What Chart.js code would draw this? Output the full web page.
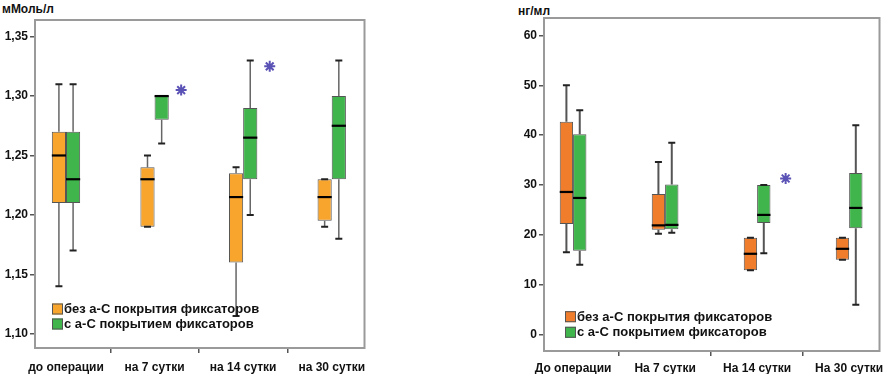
<!DOCTYPE html>
<html>
<head>
<meta charset="utf-8">
<script src="https://cdn.jsdelivr.net/npm/chart.js@4.4.1/dist/chart.umd.min.js"></script>
<style>
  body { margin: 0; background: #fff; width: 887px; height: 374px; overflow: hidden; position: relative; font-family: 'Liberation Sans', Arial, sans-serif; }
  .panel { position: absolute; top: 0; }
  .unit { position: absolute; font: bold 12px 'Liberation Sans', Arial, sans-serif; color: #111; }
</style>
</head>
<body>
<div class="unit" style="left:2px; top:2px;">мМоль/л</div>
<div class="unit" style="left:518px; top:4px;">нг/мл</div>
<canvas id="leftChart" class="panel" style="left:0px;" width="372" height="374"></canvas>
<canvas id="rightChart" class="panel" style="left:500px;" width="387" height="374"></canvas>
<script>
// categories
const categoriesLeft = ['до операции', 'на 7 сутки', 'на 14 сутки', 'на 30 сутки'];
const categoriesRight = ['До операции', 'На 7 сутки', 'На 14 сутки', 'На 30 сутки'];
const seriesNames = ['без а-С покрытия фиксаторов', 'с а-С покрытием фиксаторов'];

// left panel, mmol/l : without coating
const leftWithoutMin = [1.14, 1.19, 1.115, 1.19];
const leftWithoutQ1 = [1.21, 1.19, 1.16, 1.195];
const leftWithoutMed = [1.25, 1.23, 1.215, 1.215];
const leftWithoutQ3 = [1.27, 1.24, 1.235, 1.23];
const leftWithoutMax = [1.31, 1.25, 1.24, 1.23];
// left panel : with coating
const leftWithMin = [1.17, 1.26, 1.20, 1.18];
const leftWithQ1 = [1.21, 1.28, 1.23, 1.23];
const leftWithMed = [1.23, 1.30, 1.265, 1.275];
const leftWithQ3 = [1.27, 1.30, 1.29, 1.30];
const leftWithMax = [1.31, 1.30, 1.33, 1.33];
const leftStarCats = [1, 2];
const leftStarValues = [1.305, 1.325];
const leftTicks = [1.10, 1.15, 1.20, 1.25, 1.30, 1.35];

// right panel, ng/ml : without coating
const rightWithoutMin = [16.5, 20.2, 12.9, 15];
const rightWithoutQ1 = [22.2, 21.0, 12.9, 15];
const rightWithoutMed = [28.6, 21.9, 16.2, 17.2];
const rightWithoutQ3 = [42.7, 28.2, 19.4, 19.4];
const rightWithoutMax = [50, 34.6, 19.4, 19.4];
// right panel : with coating
const rightWithMin = [14, 20.4, 16.3, 6];
const rightWithQ1 = [16.8, 21.1, 22.4, 21.3];
const rightWithMed = [27.4, 22, 24, 25.4];
const rightWithQ3 = [40.2, 30.1, 30, 32.4];
const rightWithMax = [45, 38.5, 30, 42];
const rightStarCats = [2];
const rightStarValues = [31.3];
const rightTicks = [0, 10, 20, 30, 40, 50, 60];

const FONT = "'Liberation Sans', Arial, sans-serif";

// whiskers, caps, medians, frame and legend
const boxPlugin = {
    id: 'boxExtras',
    beforeDatasetsDraw(chart, args, opts) {
        const a = chart.chartArea;
        const ctx = chart.ctx;
        ctx.save();
        ctx.strokeStyle = '#9a9a9a';
        ctx.lineWidth = 2;
        ctx.strokeRect(a.left, a.top, a.right - a.left, a.bottom - a.top);
        ctx.restore();
    },
    afterDatasetsDraw(chart, args, opts) {
        const ctx = chart.ctx;
        const y = chart.scales.y;
        chart.data.datasets.forEach((ds, di) => {
            if (!ds.whisker) return;
            const meta = chart.getDatasetMeta(di);
            meta.data.forEach((el, i) => {
                const x = el.x;
                const w = el.width;
                const q1 = y.getPixelForValue(ds.data[i].y[0]);
                const q3 = y.getPixelForValue(ds.data[i].y[1]);
                const lo = y.getPixelForValue(ds.whisker.min[i]);
                const hi = y.getPixelForValue(ds.whisker.max[i]);
                const md = y.getPixelForValue(ds.whisker.med[i]);
                ctx.save();
                ctx.strokeStyle = opts.whiskerColor;
                ctx.lineWidth = opts.whiskerWidth;
                ctx.beginPath();
                ctx.moveTo(x, q3); ctx.lineTo(x, hi);
                ctx.moveTo(x, q1); ctx.lineTo(x, lo);
                ctx.stroke();
                ctx.strokeStyle = '#222';
                ctx.lineWidth = 2;
                ctx.beginPath();
                ctx.moveTo(x - 3.5, hi); ctx.lineTo(x + 3.5, hi);
                ctx.moveTo(x - 3.5, lo); ctx.lineTo(x + 3.5, lo);
                ctx.stroke();
                ctx.strokeStyle = '#000';
                ctx.lineWidth = 2.2;
                ctx.beginPath();
                ctx.moveTo(x - w / 2, md); ctx.lineTo(x + w / 2, md);
                ctx.stroke();
                ctx.restore();
            });
        });
    },
    afterDraw(chart, args, opts) {
        const ctx = chart.ctx;
        ctx.save();
        ctx.font = 'bold 13px ' + FONT;
        ctx.textBaseline = 'middle';
        chart.data.datasets.filter(ds => ds.whisker).forEach((ds, k) => {
            const cy = opts.legendY + k * opts.legendStep;
            ctx.fillStyle = ds.backgroundColor;
            ctx.fillRect(opts.legendX, cy - 5.5, 11, 11);
            ctx.strokeStyle = '#555';
            ctx.lineWidth = 1;
            ctx.strokeRect(opts.legendX + 0.5, cy - 5, 10, 10);
            ctx.fillStyle = '#111';
            ctx.fillText(ds.label, opts.legendX + 12, cy + 0.5);
        });
        ctx.restore();
    }
};

function buildChart(id, cfg) {
    const boxData = (q1, q3) => q1.map((v, i) => ({ x: i, y: [v, q3[i]] }));
    return new Chart(document.getElementById(id), {
        type: 'bar',
        data: {
            datasets: [{
                label: seriesNames[0],
                data: boxData(cfg.without.q1, cfg.without.q3),
                whisker: { min: cfg.without.min, med: cfg.without.med, max: cfg.without.max },
                backgroundColor: cfg.orange,
                borderColor: '#555',
                borderWidth: 1,
                borderSkipped: false
            }, {
                label: seriesNames[1],
                data: boxData(cfg.withC.q1, cfg.withC.q3),
                whisker: { min: cfg.withC.min, med: cfg.withC.med, max: cfg.withC.max },
                backgroundColor: '#3fb54b',
                borderColor: '#555',
                borderWidth: 1,
                borderSkipped: false
            }, {
                type: 'scatter',
                label: 'p',
                data: cfg.starCats.map((c, i) => ({ x: c + cfg.starShift, y: cfg.starValues[i] })),
                pointStyle: 'star',
                radius: 5.5,
                borderColor: '#5a52b5',
                borderWidth: 2
            }]
        },
        options: {
            responsive: false,
            animation: false,
            events: [],
            categoryPercentage: cfg.groupWidth,
            barPercentage: 1,
            layout: { padding: { left: 0, right: cfg.padRight, top: cfg.padTop, bottom: 0 } },
            plugins: {
                legend: { display: false },
                tooltip: { enabled: false },
                boxExtras: {
                    whiskerColor: cfg.whiskerColor,
                    whiskerWidth: cfg.whiskerWidth,
                    legendX: cfg.legendX,
                    legendY: cfg.legendY,
                    legendStep: cfg.legendStep
                }
            },
            scales: {
                x: {
                    type: 'linear',
                    min: cfg.xMin,
                    max: cfg.xMax,
                    offset: false,
                    afterBuildTicks: axis => { axis.ticks = cfg.categories.map((c, i) => ({ value: i })); },
                    afterFit: axis => { axis.height = cfg.xAxisHeight; axis.paddingLeft = 0; axis.paddingRight = 0; },
                    border: { display: false },
                    grid: { drawOnChartArea: false, tickLength: 5, color: '#555', lineWidth: 1.5 },
                    ticks: {
                        autoSkip: false,
                        maxRotation: 0,
                        padding: cfg.xLabelPad,
                        color: '#111',
                        font: { family: FONT, size: 12, weight: 'bold' },
                        callback: v => cfg.categories[v]
                    }
                },
                y: {
                    min: cfg.yMin,
                    max: cfg.yMax,
                    afterBuildTicks: axis => { axis.ticks = cfg.ticks.map(v => ({ value: v })); },
                    afterFit: axis => { axis.width = cfg.yAxisWidth; axis.paddingTop = 0; axis.paddingBottom = 0; },
                    border: { display: false },
                    grid: { drawOnChartArea: false, tickLength: 5, color: '#555', lineWidth: 1.5 },
                    ticks: {
                        padding: 2,
                        color: '#111',
                        font: { family: FONT, size: 12, weight: 'bold' },
                        callback: cfg.tickFormat
                    }
                }
            }
        },
        plugins: [boxPlugin]
    });
}

buildChart('leftChart', {
    categories: categoriesLeft,
    without: { min: leftWithoutMin, q1: leftWithoutQ1, med: leftWithoutMed, q3: leftWithoutQ3, max: leftWithoutMax },
    withC: { min: leftWithMin, q1: leftWithQ1, med: leftWithMed, q3: leftWithQ3, max: leftWithMax },
    starCats: leftStarCats, starValues: leftStarValues, starShift: 0.3,
    ticks: leftTicks,
    tickFormat: v => v.toFixed(2).replace('.', ','),
    orange: '#f8a52e',
    whiskerColor: '#666', whiskerWidth: 1.5,
    xMin: -0.35, xMax: 3.37, yMin: 1.088, yMax: 1.364,
    groupWidth: 0.32,
    padRight: 4, padTop: 20, xAxisHeight: 26, yAxisWidth: 35, xLabelPad: 7,
    legendX: 52, legendY: 309, legendStep: 15
});

buildChart('rightChart', {
    categories: categoriesRight,
    without: { min: rightWithoutMin, q1: rightWithoutQ1, med: rightWithoutMed, q3: rightWithoutQ3, max: rightWithoutMax },
    withC: { min: rightWithMin, q1: rightWithQ1, med: rightWithMed, q3: rightWithQ3, max: rightWithMax },
    starCats: rightStarCats, starValues: rightStarValues, starShift: 0.31,
    ticks: rightTicks,
    tickFormat: v => String(v),
    orange: '#ef7d2b',
    whiskerColor: '#555', whiskerWidth: 2,
    xMin: -0.316, xMax: 3.33, yMin: -3.3, yMax: 63.5,
    groupWidth: 0.29,
    padRight: 5, padTop: 18, xAxisHeight: 23, yAxisWidth: 44, xLabelPad: 5,
    legendX: 65, legendY: 316.7, legendStep: 15.6
});
</script>
</body>
</html>
